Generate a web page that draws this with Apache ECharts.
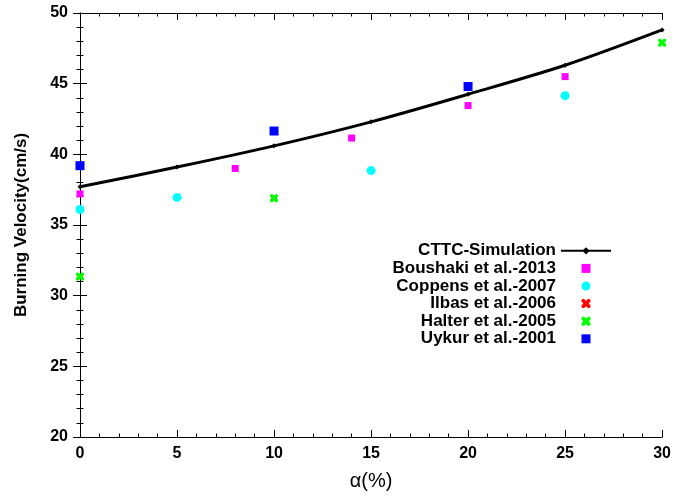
<!DOCTYPE html>
<html><head><meta charset="utf-8">
<script src="https://cdn.jsdelivr.net/npm/echarts@6/dist/echarts.min.js"></script>
<style>html,body{margin:0;padding:0;background:#fff}#c{width:674px;height:496px}</style>
</head><body><div id="c"></div>
<script>
const cttcX = [0, 5, 10, 15, 20, 25, 30];
const cttcY = [37.7, 39.1, 40.6, 42.3, 44.25, 46.3, 48.8];
const boushakiX = [0, 8, 14, 20, 25];
const boushakiY = [37.2, 39.0, 41.15, 43.45, 45.5];
const coppensX = [0, 5, 15, 25];
const coppensY = [36.1, 36.95, 38.85, 44.15];
const ilbasX = [0, 10];
const ilbasY = [31.35, 36.9];
const halterX = [0, 10, 30];
const halterY = [31.35, 36.9, 47.9];
const uykurX = [0, 10, 20];
const uykurY = [39.2, 41.65, 44.8];
const xTicks = [0, 5, 10, 15, 20, 25, 30];
const yTicks = [20, 25, 30, 35, 40, 45, 50];

function pairs(xs, ys) { return xs.map((x, i) => [x, ys[i]]); }
const crossPath = 'path://M0,1 L1,0 L3,0 L5,2 L7,0 L9,0 L10,1 L10,3 L8,5 L10,7 L10,9 L9,10 L7,10 L5,8 L3,10 L1,10 L0,9 L0,7 L2,5 L0,3 Z';
const squarePath = 'path://M0,0 L10,0 L10,10 L0,10 Z';
const font = '"Liberation Sans", Arial, sans-serif';

const chart = echarts.init(document.getElementById('c'));
const tickCommon = {
  axisLine: { show: true, lineStyle: { color: '#000', width: 1 } },
  axisTick: { show: true, inside: true, length: 7, lineStyle: { color: '#000' } },
  minorTick: { show: true, splitNumber: 5, length: 3.5, lineStyle: { color: '#000' } },
  splitLine: { show: false }
};
chart.setOption({
  animation: false,
  backgroundColor: '#fff',
  grid: { left: 80, right: 10, top: 13, bottom: 59, containLabel: false },
  xAxis: [
    Object.assign({
      type: 'value', min: xTicks[0], max: xTicks[xTicks.length - 1], interval: 5,
      name: 'α(%)', nameLocation: 'middle', nameGap: 34,
      nameTextStyle: { fontFamily: font, fontSize: 20, color: '#000' },
      axisLabel: { fontFamily: font, fontSize: 16, fontWeight: 'bold', color: '#000', margin: 9 }
    }, tickCommon),
    Object.assign({
      type: 'value', position: 'top', min: 0, max: 30, interval: 5,
      axisLabel: { show: false }
    }, tickCommon)
  ],
  yAxis: [
    Object.assign({
      type: 'value', min: yTicks[0], max: yTicks[yTicks.length - 1], interval: 5,
      name: 'Burning Velocity(cm/s)', nameLocation: 'middle', nameGap: 50,
      nameTextStyle: { fontFamily: font, fontSize: 17, fontWeight: 'bold', color: '#000' },
      axisLabel: { fontFamily: font, fontSize: 16, fontWeight: 'bold', color: '#000', margin: 12 }
    }, tickCommon),
    Object.assign({
      type: 'value', position: 'right', min: 20, max: 50, interval: 5,
      axisLabel: { show: false }
    }, tickCommon)
  ],
  legend: {
    orient: 'vertical', align: 'right', right: 57, top: 237,
    itemWidth: 50, itemHeight: 9, itemGap: 0,
    textStyle: { fontFamily: font, fontSize: 17, fontWeight: 'bold', color: '#000', lineHeight: 17.6 },
    data: [
      { name: 'CTTC-Simulation' },
      { name: 'Boushaki et al.-2013', icon: squarePath },
      { name: 'Coppens et al.-2007' },
      { name: 'Ilbas et al.-2006' },
      { name: 'Halter et al.-2005' },
      { name: 'Uykur et al.-2001', icon: squarePath }
    ]
  },
  series: [
    { name: 'Ilbas et al.-2006', type: 'scatter', data: pairs(ilbasX, ilbasY), symbol: crossPath, symbolSize: 7, itemStyle: { color: '#ff0000', opacity: 1 } },
    { name: 'Halter et al.-2005', type: 'scatter', data: pairs(halterX, halterY), symbol: crossPath, symbolSize: 8, itemStyle: { color: '#00ff00', opacity: 1 } },
    { name: 'Coppens et al.-2007', type: 'scatter', data: pairs(coppensX, coppensY), symbol: 'circle', symbolSize: 9, itemStyle: { color: '#00ffff', opacity: 1 } },
    { name: 'Boushaki et al.-2013', type: 'scatter', data: pairs(boushakiX, boushakiY), symbol: 'rect', symbolSize: 7, itemStyle: { color: '#ff00ff', opacity: 1 } },
    { name: 'Uykur et al.-2001', type: 'scatter', data: pairs(uykurX, uykurY), symbol: 'rect', symbolSize: 9, itemStyle: { color: '#0000ff', opacity: 1 } },
    { name: 'CTTC-Simulation', type: 'line', data: pairs(cttcX, cttcY), smooth: 0.3,
      symbol: 'diamond', symbolSize: 5, showSymbol: true,
      lineStyle: { color: '#000', width: 3 }, itemStyle: { color: '#000' }, z: 5 }
  ]
});
</script></body></html>
